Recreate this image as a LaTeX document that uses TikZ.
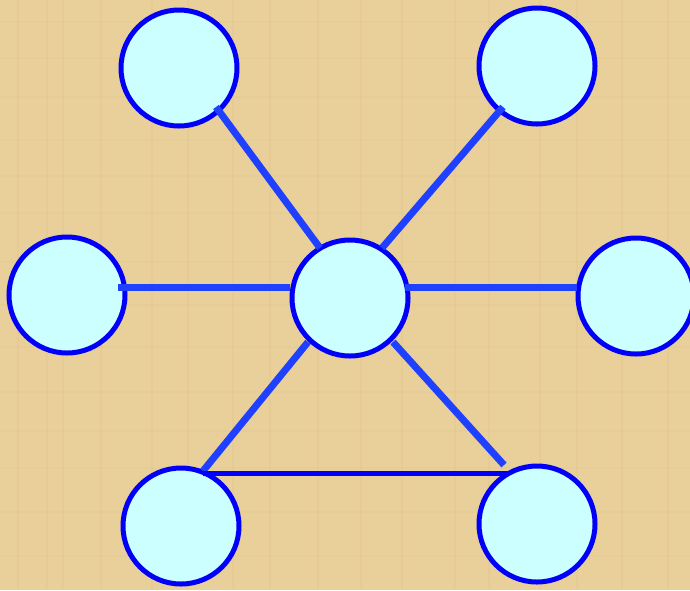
\documentclass[tikz,border=0pt]{standalone}
\usetikzlibrary{backgrounds}
\definecolor{parch}{RGB}{233,207,153}
\definecolor{parchdark}{RGB}{214,185,128}
\definecolor{nodefill}{RGB}{204,255,255}
\definecolor{spoke}{RGB}{32,64,255}
\definecolor{ringblue}{RGB}{0,0,250}
\tikzset{
  ball/.style={circle, draw=ringblue, fill=nodefill, line width=5pt, minimum size=116pt, inner sep=0pt},
  spokeline/.style={draw=spoke, line width=7pt},
  baseline/.style={draw=ringblue, line width=5pt}
}
\begin{document}
\begin{tikzpicture}[x=1pt,y=-1pt]
\useasboundingbox (0,0) rectangle (690,590);
\clip (0,0) rectangle (690,590);
\fill[parch] (0,0) rectangle (690,590);
% faint parchment texture
\foreach \xx in {18,47,63,101,152,188,233,270,318,361,402,455,489,540,577,622,668}{
  \draw[parchdark, opacity=0.15, line width=1.5pt] (\xx,0) -- (\xx,590);
}
\foreach \yy in {22,58,97,140,176,213,262,305,347,392,431,468,512,556}{
  \draw[parchdark, opacity=0.12, line width=1.5pt] (0,\yy) -- (690,\yy);
}
% nodes
\node[ball] (tl) at (179,68) {};
\node[ball] (tr) at (537,66) {};
\node[ball] (l) at (67,295) {};
\node[ball] (c) at (350,298) {};
\node[ball] (r) at (636,296) {};
\node[ball] (bl) at (181,526) {};
\node[ball] (br) at (537,524) {};
% connector end points
\coordinate (tlA) at (216,107);
\coordinate (tlB) at (320,248);
\coordinate (trA) at (503,107);
\coordinate (trB) at (382,248);
\coordinate (lA) at (118,287.5);
\coordinate (lB) at (290,287.5);
\coordinate (rA) at (405,287.5);
\coordinate (rB) at (577,287.5);
\coordinate (blA) at (308,342);
\coordinate (blB) at (203,471);
\coordinate (brA) at (393,342);
\coordinate (brB) at (504,465);
\coordinate (hA) at (203,473);
\coordinate (hB) at (508,473);
% connectors
\draw[spokeline] (tlA) -- (tlB);
\draw[spokeline] (trA) -- (trB);
\draw[spokeline] (lA) -- (lB);
\draw[spokeline] (rA) -- (rB);
\draw[spokeline] (blA) -- (blB);
\draw[spokeline] (brA) -- (brB);
\draw[baseline] (hA) -- (hB);
\end{tikzpicture}
\end{document}
